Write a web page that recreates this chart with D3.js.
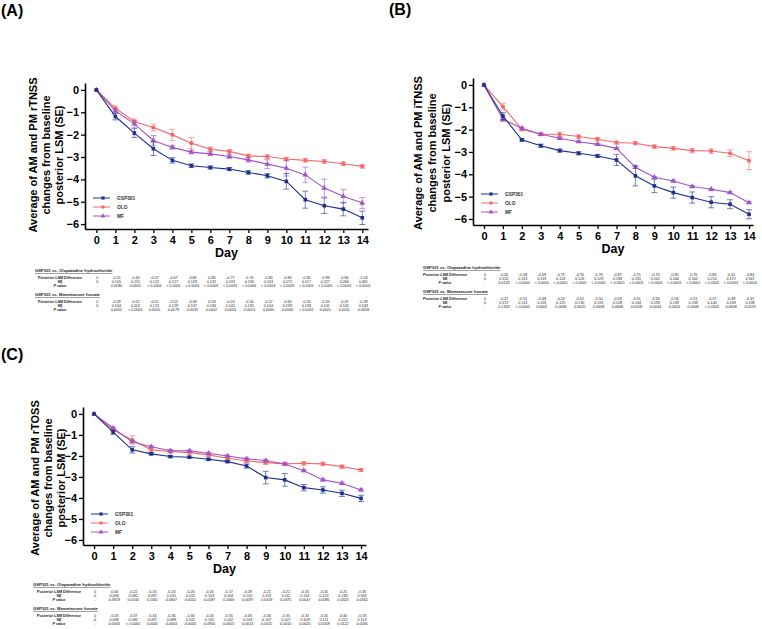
<!DOCTYPE html>
<html><head><meta charset="utf-8">
<script src="https://cdn.jsdelivr.net/npm/d3@7"></script>
<style>body{margin:0;background:#fff;} svg{display:block;}</style>
</head><body>
<svg id="chart" width="762" height="629"></svg>
<script>
// ---------- data ----------
const days = [0,1,2,3,4,5,6,7,8,9,10,11,12,13,14];
const yTicks = [0,-1,-2,-3,-4,-5,-6];
const seriesNames = ["GSP301","OLO","MF"];
const rowLabels = ["Posterior LSM Difference","SE","P value"];
const tableHeaders = ["GSP301 vs. Olopatadine hydrochloride","GSP301 vs. Mometasone furoate"];

// Panel A: rTNSS
const gspA    = [0,-1.19,-1.93,-2.63,-3.15,-3.39,-3.47,-3.54,-3.69,-3.84,-4.09,-4.91,-5.18,-5.33,-5.72];
const gspA_se = [0,0.15,0.2,0.3,0.12,0.08,0.07,0.07,0.08,0.1,0.35,0.38,0.35,0.3,0.3];
const oloA    = [0,-0.82,-1.41,-1.68,-2.01,-2.38,-2.65,-2.75,-2.95,-2.98,-3.09,-3.15,-3.2,-3.3,-3.42];
const oloA_se = [0,0.1,0.12,0.15,0.25,0.25,0.1,0.08,0.08,0.08,0.08,0.08,0.08,0.08,0.08];
const mfA     = [0,-0.94,-1.52,-2.26,-2.57,-2.78,-2.86,-2.98,-3.13,-3.32,-3.5,-3.8,-4.39,-4.76,-5.06];
const mfA_se  = [0,0.1,0.15,0.22,0.08,0.08,0.08,0.08,0.1,0.2,0.35,0.35,0.4,0.3,0.25];

// Panel B: iTNSS
const gspB    = [0,-1.39,-2.46,-2.72,-2.94,-3.06,-3.18,-3.36,-4.07,-4.52,-4.82,-5.04,-5.25,-5.34,-5.79];
const gspB_se = [0,0.15,0.06,0.07,0.07,0.07,0.07,0.25,0.45,0.3,0.25,0.25,0.25,0.2,0.2];
const oloB    = [0,-0.97,-1.99,-2.21,-2.21,-2.31,-2.43,-2.58,-2.61,-2.76,-2.84,-2.94,-2.96,-3.06,-3.39];
const oloB_se = [0,0.15,0.06,0.06,0.1,0.08,0.08,0.07,0.07,0.08,0.08,0.1,0.1,0.15,0.4];
const mfB     = [0,-1.54,-1.94,-2.21,-2.39,-2.54,-2.66,-2.84,-3.69,-4.13,-4.3,-4.55,-4.67,-4.82,-5.27];
const mfB_se  = [0,0.1,0.05,0.05,0.04,0.04,0.04,0.04,0.05,0.04,0.04,0.04,0.04,0.04,0.04];

// Panel C: rTOSS
const gspC    = [0,-0.87,-1.71,-1.9,-2.03,-2.06,-2.16,-2.27,-2.48,-3.03,-3.14,-3.51,-3.62,-3.78,-4.02];
const gspC_se = [0,0.1,0.15,0.05,0.05,0.05,0.05,0.05,0.1,0.3,0.3,0.15,0.15,0.15,0.15];
const oloC    = [0,-0.75,-1.24,-1.71,-1.79,-1.84,-1.95,-2.11,-2.24,-2.32,-2.38,-2.35,-2.38,-2.51,-2.67];
const oloC_se = [0,0.08,0.2,0.1,0.08,0.08,0.08,0.08,0.08,0.08,0.08,0.08,0.08,0.08,0.08];
const mfC     = [0,-0.68,-1.32,-1.56,-1.75,-1.76,-1.87,-2.0,-2.14,-2.22,-2.38,-2.7,-3.14,-3.3,-3.62];
const mfC_se  = [0,0.05,0.05,0.05,0.05,0.05,0.05,0.05,0.05,0.05,0.05,0.05,0.05,0.05,0.05];

// Tables
const tA_olo_diff = ["0","-0.25","-0.44","-0.57","-0.67","-0.84","-0.80","-0.77","-0.76","-0.84","-0.84","-0.90","-0.99","-0.80","-1.03"];
const tA_olo_se   = ["0","0.105","0.115","0.122","0.127","0.129","0.132","0.133","0.136","0.143","0.172","0.217","0.227","0.264","0.461"];
const tA_olo_p    = ["-","0.0180","0.0001","< 0.0001","< 0.0001","< 0.0001","< 0.0001","< 0.0001","< 0.0001","< 0.0001","< 0.0001","< 0.0001","< 0.0001","< 0.0001","< 0.0001"];
const tA_mf_diff  = ["0","-0.29","-0.52","-0.51","-0.52","-0.58","-0.59","-0.53","-0.56","-0.57","-0.60","-0.56","-0.55","-0.47","-0.39"];
const tA_mf_se    = ["0","0.104","0.114","0.123","0.129","0.137","0.136","0.141","0.135","0.144","0.139","0.138","0.141","0.142","0.143"];
const tA_mf_p     = ["-","0.0052","< 0.0001","0.0005","0.0079","0.0035","0.0002","0.0054","0.0013","0.0040","0.0006","< 0.0001","0.0001","0.0011","0.0058"];

const tB_olo_diff = ["0","-0.26","-0.49","-0.49","-0.75","-0.76","-0.76","-0.87","-0.75","-0.74","-0.82","-0.76","-0.83","-0.61","-0.84"];
const tB_olo_se   = ["0","0.102","0.113","0.119","0.124","0.126","0.129","0.138","0.131","0.141","0.144","0.162","0.210","0.172","0.347"];
const tB_olo_p    = ["-","0.0133","< 0.0001","< 0.0001","< 0.0001","< 0.0001","< 0.0001","< 0.0001","< 0.0001","< 0.0001","< 0.0001","< 0.0001","< 0.0001","< 0.0001","< 0.0001"];
const tB_mf_diff  = ["0","-0.27","-0.52","-0.48","-0.53","-0.52","-0.50","-0.59","-0.55","-0.59","-0.58","-0.51","-0.57","-0.49","-0.35"];
const tB_mf_se    = ["0","0.157","0.113","0.126","0.125","0.130","0.133","0.128","0.134","0.139","0.139","0.139","0.140","0.139","0.138"];
const tB_mf_p     = ["-","0.1329","< 0.0001","0.0001","0.0094","0.0020","0.0008","0.0008","0.0018","0.0043","0.0024","0.0006","< 0.0001","0.0008","0.0123"];

const tC_olo_diff = ["0","-0.06","-0.22","-0.16","-0.20","-0.26","-0.24","-0.17","-0.28","-0.22","-0.22","-0.31","-0.31","-0.25","-0.35"];
const tC_olo_se   = ["0","0.094","0.092","0.097","0.100","0.101","0.103","0.104","0.105","0.113","0.111","0.114","0.120","0.130","0.163"];
const tC_olo_p    = ["-","0.4919","0.0144","0.1061","0.0947","0.0110","0.0187","0.1066","0.0097","0.0559","0.0375","0.0047","0.0085","0.0323","0.0332"];
const tC_mf_diff  = ["0","-0.23","-0.37","-0.34","-0.36","-0.36","-0.24","-0.35","-0.33","-0.34","-0.35","-0.33","-0.31","-0.30","-0.33"];
const tC_mf_se    = ["0","0.094","0.092","0.097","0.099","0.101","0.102","0.102","0.104","0.107","0.107","0.109","0.111","0.112","0.113"];
const tC_mf_p     = ["-","0.0063","< 0.0001","0.0005","0.0004","0.0003","0.0910","0.0005","0.0013","0.0015","0.0010","0.0020","0.0058","0.0122","0.0036"];

// ---------- drawing ----------
const FONT = "'Liberation Sans', Arial, Helvetica, sans-serif";
const colors = {GSP301:"#1f2f8e", OLO:"#f26b6b", MF:"#a253c6"};
const symbols = {GSP301:d3.symbolSquare, OLO:d3.symbolCircle, MF:d3.symbolTriangle};
const symSize = {GSP301:13, OLO:14, MF:14};
const svg = d3.select("#chart").style("font-family", FONT);

function drawPanel(cfg){
  const g = svg.append("g");
  const x = d3.scaleLinear().domain(cfg.xDom).range([cfg.left, cfg.right]);
  const y = d3.scaleLinear().domain(cfg.yDom).range([cfg.top, cfg.bottom]);

  g.append("text").attr("x", cfg.labelX).attr("y", cfg.labelY)
    .attr("font-size", 16).attr("font-weight", "bold").text(cfg.label);

  const xa = g.append("g").attr("transform", `translate(0,${cfg.bottom})`)
    .call(d3.axisBottom(x).tickValues(days).tickSize(4).tickSizeOuter(0).tickPadding(3).tickFormat(d3.format("d")));
  const ya = g.append("g").attr("transform", `translate(${cfg.left},0)`)
    .call(d3.axisLeft(y).tickValues(yTicks).tickSize(4).tickSizeOuter(0).tickPadding(2).tickFormat(d3.format("d")));
  [xa, ya].forEach(a => {
    a.select(".domain").attr("stroke", "#000").attr("stroke-width", 1.6);
    a.selectAll(".tick line").attr("stroke", "#000").attr("stroke-width", 1.3);
    a.selectAll(".tick text").attr("font-size", 11).attr("font-weight", "bold").attr("fill", "#000").attr("font-family", FONT);
  });

  g.append("text").attr("x", (cfg.left + cfg.right)/2).attr("y", cfg.bottom + 28)
    .attr("text-anchor", "middle").attr("font-size", 12.5).attr("font-weight", "bold").text("Day");

  const tcy = cfg.titleY;
  cfg.title.forEach((t, i) => {
    const bx = cfg.left + cfg.titleDx[i];
    g.append("text").attr("transform", `translate(${bx},${tcy}) rotate(-90)`)
      .attr("text-anchor", "middle").attr("font-size", 11).attr("font-weight", "bold").text(t);
  });

  const order = ["OLO","MF","GSP301"];
  order.forEach(name => {
    const s = cfg.series[name];
    const c = colors[name];
    const pts = days.map((d, i) => ({d, v: s.v[i], e: s.e[i]}));
    const eb = g.append("g").attr("stroke", c).attr("stroke-opacity", 0.6).attr("stroke-width", 1);
    pts.filter(p => p.e > 0).forEach(p => {
      const cx = x(p.d);
      eb.append("line").attr("x1", cx).attr("x2", cx).attr("y1", y(p.v - p.e)).attr("y2", y(p.v + p.e));
      eb.append("line").attr("x1", cx-3).attr("x2", cx+3).attr("y1", y(p.v - p.e)).attr("y2", y(p.v - p.e));
      eb.append("line").attr("x1", cx-3).attr("x2", cx+3).attr("y1", y(p.v + p.e)).attr("y2", y(p.v + p.e));
    });
    g.append("path").datum(pts).attr("fill", "none").attr("stroke", c).attr("stroke-width", 1.1)
      .attr("d", d3.line().x(p => x(p.d)).y(p => y(p.v)));
    g.append("g").selectAll("path").data(pts).join("path")
      .attr("transform", p => `translate(${x(p.d)},${y(p.v)})`)
      .attr("d", d3.symbol().type(symbols[name]).size(symSize[name])).attr("fill", c);
  });

  // legend
  seriesNames.forEach((name, i) => {
    const ly = cfg.bottom - 31 + i * 9;
    const lx0 = cfg.left + 8;
    g.append("line").attr("x1", lx0).attr("x2", lx0 + 17).attr("y1", ly).attr("y2", ly)
      .attr("stroke", colors[name]).attr("stroke-width", 1);
    g.append("path").attr("transform", `translate(${lx0 + 10},${ly})`)
      .attr("d", d3.symbol().type(symbols[name]).size(10)).attr("fill", colors[name]);
    g.append("text").attr("x", lx0 + 24).attr("y", ly + 1.6).attr("font-size", 4.8).attr("font-weight", "bold")
      .attr("fill", "#333").text(name);
  });

  // table
  const tb = g.append("g").attr("font-size", 3.7).attr("fill", "#222");
  cfg.tables.forEach((tbl, k) => {
    const hy = cfg.tableY + k * 24;
    tb.append("text").attr("x", cfg.tableX).attr("y", hy + 1.3).attr("font-weight", "bold")
      .attr("font-size", 4.2).attr("text-decoration", "underline").text(tableHeaders[k]);
    tbl.forEach((row, r) => {
      const ry = hy + 7 + r * 4;
      tb.append("text").attr("x", cfg.rowLabelX).attr("y", ry + 1.3).attr("text-anchor", "middle")
        .attr("font-weight", "bold").attr("font-style", r === 2 ? "italic" : "normal").text(rowLabels[r]);
      row.forEach((val, j) => {
        tb.append("text").attr("x", x(days[j]) + 1).attr("y", ry + 1.3).attr("text-anchor", "middle").text(val);
      });
    });
  });
}

drawPanel({
  label:"(A)", labelX:1, labelY:16,
  left:85, right:368, top:83, bottom:229,
  xDom:[-0.6, 14.3], yDom:[0.31, -6.22],
  title:["Average of AM and PM rTNSS","changes from baseline","posterior LSM (SE)"],
  titleDx:[-48,-35,-22], titleY:155,
  series:{GSP301:{v:gspA,e:gspA_se}, OLO:{v:oloA,e:oloA_se}, MF:{v:mfA,e:mfA_se}},
  tableX:35, tableY:271, rowLabelX:60,
  tables:[[tA_olo_diff,tA_olo_se,tA_olo_p],[tA_mf_diff,tA_mf_se,tA_mf_p]]
});
drawPanel({
  label:"(B)", labelX:389, labelY:15,
  left:473, right:753, top:78, bottom:225,
  xDom:[-0.58, 14.21], yDom:[0.31, -6.27],
  title:["Average of AM and PM iTNSS","changes from baseline","posterior LSM (SE)"],
  titleDx:[-51,-37,-23], titleY:153,
  series:{GSP301:{v:gspB,e:gspB_se}, OLO:{v:oloB,e:oloB_se}, MF:{v:mfB,e:mfB_se}},
  tableX:423, tableY:268, rowLabelX:445,
  tables:[[tB_olo_diff,tB_olo_se,tB_olo_p],[tB_mf_diff,tB_mf_se,tB_mf_p]]
});
drawPanel({
  label:"(C)", labelX:1, labelY:360,
  left:83, right:366, top:407, bottom:545,
  xDom:[-0.58, 14.26], yDom:[0.33, -6.24],
  title:["Average of AM and PM rTOSS","changes from baseline","posterior LSM (SE)"],
  titleDx:[-44,-31,-18], titleY:478,
  series:{GSP301:{v:gspC,e:gspC_se}, OLO:{v:oloC,e:oloC_se}, MF:{v:mfC,e:mfC_se}},
  tableX:33, tableY:585, rowLabelX:59,
  tables:[[tC_olo_diff,tC_olo_se,tC_olo_p],[tC_mf_diff,tC_mf_se,tC_mf_p]]
});
</script>
</body></html>
